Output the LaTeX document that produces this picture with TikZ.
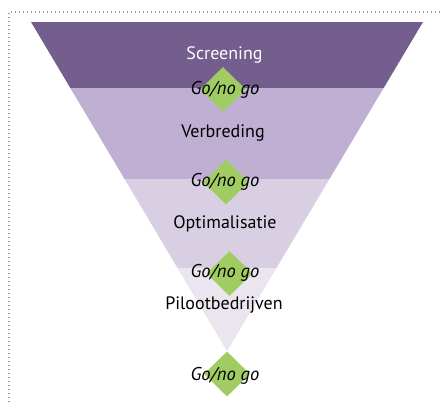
\documentclass[tikz,border=0pt]{standalone}
\usepackage{fontspec}
\setmainfont{PT Sans}
\usetikzlibrary{shapes.geometric}
\definecolor{bandA}{HTML}{745E8D}
\definecolor{bandB}{HTML}{BFB0D3}
\definecolor{bandC}{HTML}{D9CFE3}
\definecolor{bandD}{HTML}{EAE5EE}
\definecolor{gogreen}{HTML}{A0CC63}
\tikzset{
  gate/.style={diamond, fill=gogreen, draw=none, inner sep=0pt, minimum width=46pt, minimum height=45pt},
  gotext/.style={font=\fontsize{18.5}{20}\selectfont\itshape, text=black, inner sep=0pt},
  stage/.style={font=\fontsize{18}{20}\selectfont, inner sep=0pt},
  frame/.style={draw=gray!80, line width=1.1pt, dash pattern=on 1.1pt off 2.9pt}
}
\begin{document}
\begin{tikzpicture}[x=1pt,y=-1pt]
\useasboundingbox (0,0) rectangle (440,402);
\fill[white] (0,0) rectangle (440,402);
\draw[frame] (9,402) -- (9,12) -- (440,12);
% funnel bands (half-width = 196 - 0.5957*(y-22), centre x=227)
\fill[bandA] (31,22) -- (423,22) -- (383.68,88) -- (70.32,88) -- cycle;
\fill[bandB] (70.32,88) -- (383.68,88) -- (329.47,179) -- (124.53,179) -- cycle;
\fill[bandC] (124.53,179) -- (329.47,179) -- (276.45,268) -- (177.55,268) -- cycle;
\fill[bandD] (177.55,268) -- (276.45,268) -- (227,351) -- cycle;
% stage labels
\node[stage, text=white] (s1) at (224.5,55) {Screening};
\node[stage] (s2) at (223,133) {Verbreding};
\node[stage] (s3) at (225,224) {Optimalisatie};
\node[stage] (s4) at (224,305) {Pilootbedrijven};
% gates
\node[gate] (g1) at (223,89.5) {};
\node[gate] (g2) at (226,182) {};
\node[gate] (g3) at (229.5,273.5) {};
\node[gate] (g4) at (227,374) {};
\node[gotext] (t1) at (225,89.5) {Go/no go};
\node[gotext] (t2) at (225,182) {Go/no go};
\node[gotext] (t3) at (225,273) {Go/no go};
\node[gotext] (t4) at (225,375.5) {Go/no go};
\end{tikzpicture}
\end{document}
